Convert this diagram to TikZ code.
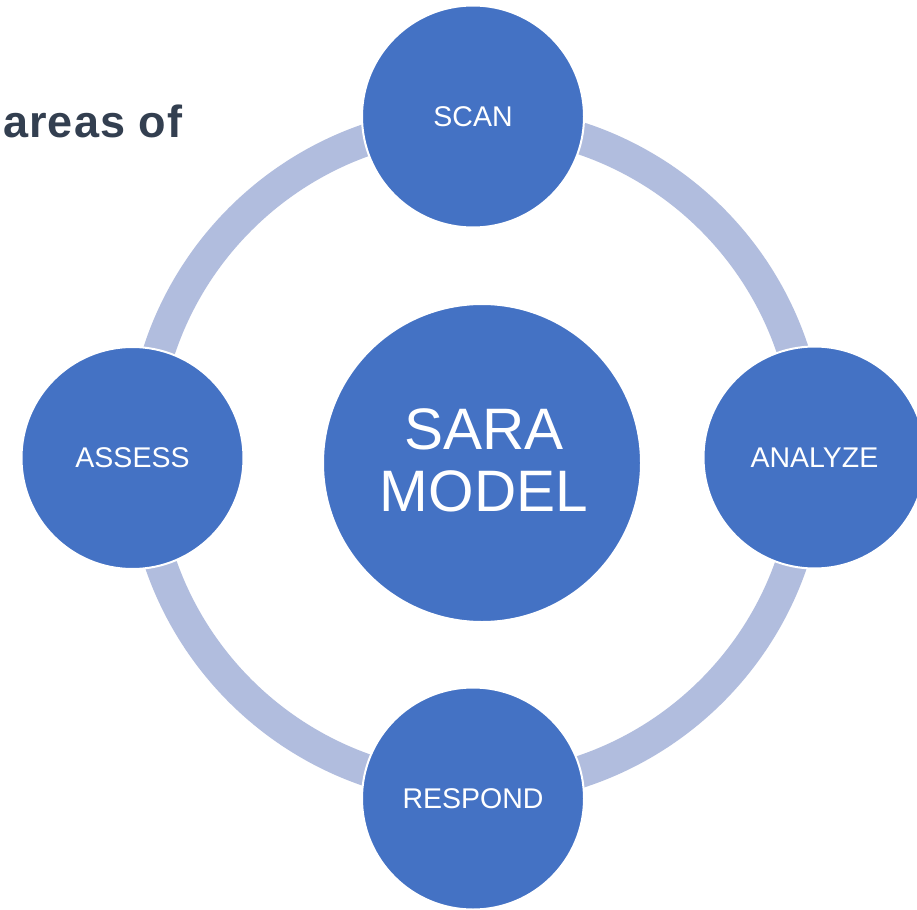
\documentclass[tikz,border=0pt]{standalone}
\usepackage{fontspec}
\setmainfont{Liberation Sans}
\newfontfamily\titlefont[LetterSpace=2.5]{Liberation Sans}
\definecolor{circblue}{HTML}{4472C4}
\definecolor{ringblue}{HTML}{B1BDDE}
\definecolor{titlegray}{HTML}{333F50}
\begin{document}
\begin{tikzpicture}[x=1pt,y=-1pt,
  stage/.style={circle,fill=circblue,draw=white,line width=2pt,minimum size=222pt,inner sep=0pt,
    text=white,font=\fontsize{28.5}{34}\selectfont},
  hub/.style={circle,fill=circblue,draw=white,line width=2pt,minimum size=318pt,inner sep=0pt},
  hubtext/.style={text=white,align=center,inner sep=0pt,font=\fontsize{58.5}{62.5}\selectfont},
  ringline/.style={draw=ringblue,line width=32pt},
  titletext/.style={text=titlegray,inner sep=0pt,anchor=base west,font=\titlefont\bfseries\fontsize{45}{52}\selectfont}]
\useasboundingbox (0,0) rectangle (917,909);
\fill[white] (0,0) rectangle (917,909);
\coordinate (ringc) at (476,455);
\draw[ringline] (ringc) circle[radius=333.5pt];
\node[titletext] (title) at (3,137.5) {areas of};
\node[hub] (sara) at (482,463) {};
\node[hubtext] (saratext) at (484,460.5) {SARA\\MODEL};
\node[stage] (scan) at (473,116.5) {SCAN};
\node[stage] (analyze) at (814.5,457.5) {ANALYZE};
\node[stage] (respond) at (473,798.5) {RESPOND};
\node[stage] (assess) at (132.5,458) {ASSESS};
\end{tikzpicture}
\end{document}
